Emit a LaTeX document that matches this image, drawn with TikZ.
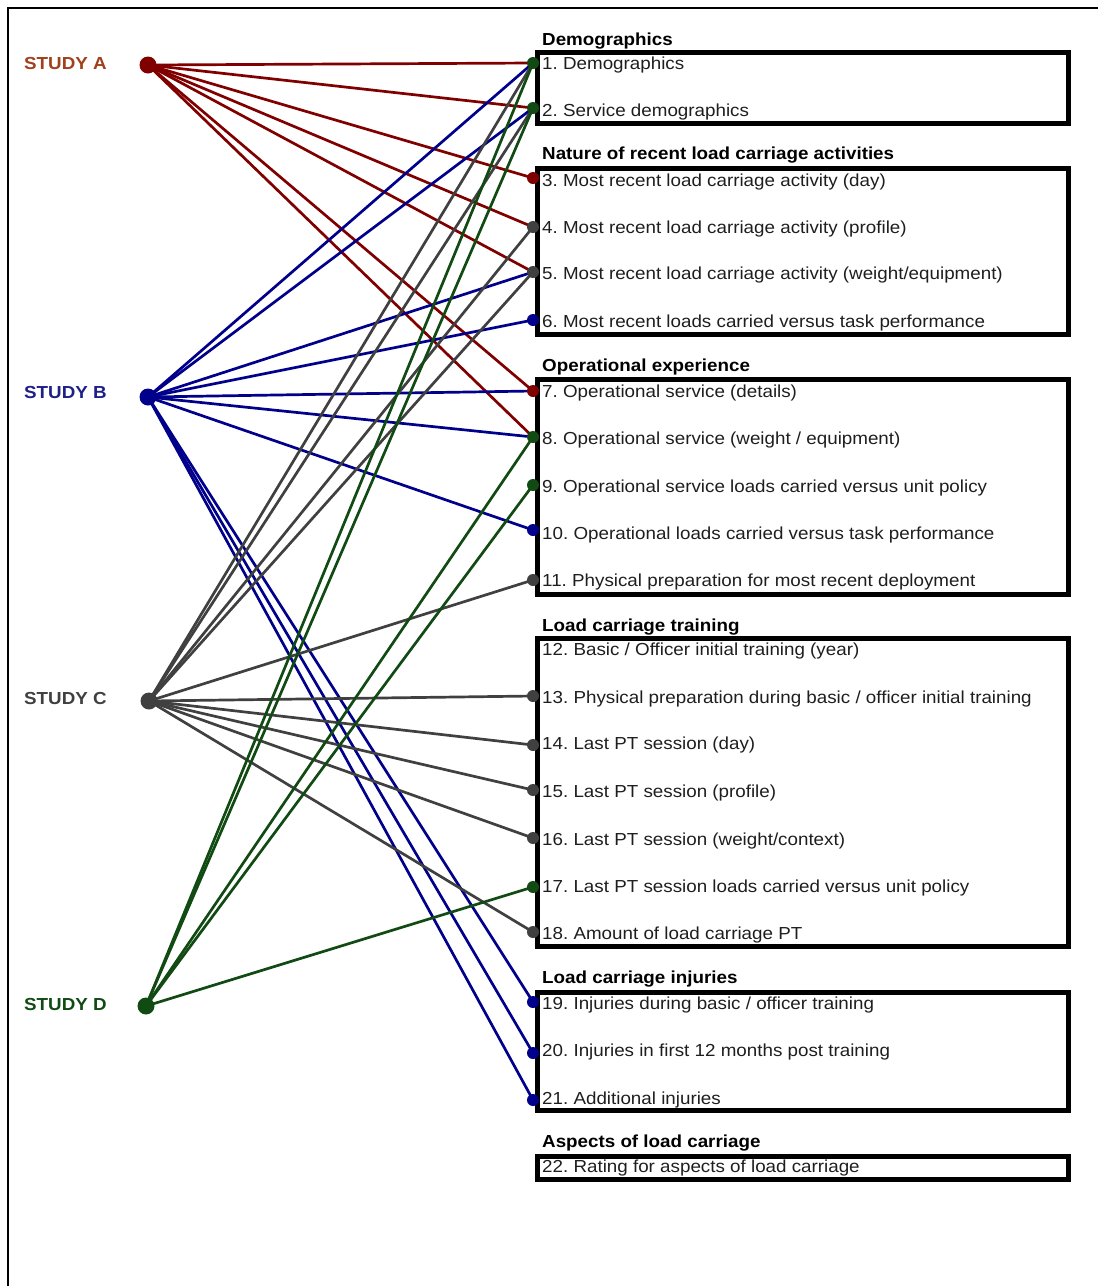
\documentclass[tikz,border=0pt]{standalone}
\usepackage{fontspec}
\setmainfont[FakeStretch=1.08]{Liberation Sans}
\usetikzlibrary{backgrounds}
\definecolor{ared}{HTML}{800000}
\definecolor{alabel}{HTML}{A0401C}
\definecolor{bblue}{HTML}{00008B}
\definecolor{blabel}{HTML}{1F1F8A}
\definecolor{cgray}{HTML}{404040}
\definecolor{dgreen}{HTML}{124A14}
\definecolor{txt}{HTML}{1E1E1E}
\begin{document}
\frenchspacing
\begin{tikzpicture}[x=1pt,y=-1pt,
  font=\fontsize{17.4}{20}\selectfont,
  studydot/.style={circle,inner sep=0pt,minimum size=17pt},
  itemdot/.style={circle,inner sep=0pt,minimum size=12pt},
  link/.style={line width=2.7pt},
  studylabel/.style={anchor=base west,inner sep=0pt,font=\fontsize{17.4}{20}\selectfont\bfseries},
  itemtext/.style={anchor=base west,inner sep=0pt,text=txt},
  heading/.style={anchor=base west,inner sep=0pt,font=\fontsize{17.4}{20}\selectfont\bfseries},
  groupbox/.style={draw=black,line width=5pt}
]
\useasboundingbox (0,0) rectangle (1098,1286);

% page frame (top and left edges)
\draw[line width=2pt] (1098,8) -- (8,8) -- (8,1286);

% group boxes
\draw[groupbox] (537,52) rectangle (1068,123);
\draw[groupbox] (537,168) rectangle (1068,334);
\draw[groupbox] (537,379) rectangle (1068,594);
\draw[groupbox] (537,638) rectangle (1068,946);
\draw[groupbox] (537,992) rectangle (1068,1110);
\draw[groupbox] (537,1156) rectangle (1068,1179);

% group headings
\node[heading] (h1) at (542,45) {Demographics};
\node[heading] (h2) at (542,159) {Nature of recent load carriage activities};
\node[heading] (h3) at (542,371) {Operational experience};
\node[heading] (h4) at (542,631) {Load carriage training};
\node[heading] (h5) at (542,983) {Load carriage injuries};
\node[heading] (h6) at (542,1147) {Aspects of load carriage};

% items
\node[itemtext] (t1) at (542,69) {1. Demographics};
\node[itemtext] (t2) at (542,116) {2. Service demographics};
\node[itemtext] (t3) at (542,186) {3. Most recent load carriage activity (day)};
\node[itemtext] (t4) at (542,233) {4. Most recent load carriage activity (profile)};
\node[itemtext] (t5) at (542,279) {5. Most recent load carriage activity (weight/equipment)};
\node[itemtext] (t6) at (542,327) {6. Most recent loads carried versus task performance};
\node[itemtext] (t7) at (542,397) {7. Operational service (details)};
\node[itemtext] (t8) at (542,444) {8. Operational service (weight / equipment)};
\node[itemtext] (t9) at (542,492) {9. Operational service loads carried versus unit policy};
\node[itemtext] (t10) at (542,539) {10. Operational loads carried versus task performance};
\node[itemtext] (t11) at (542,586) {11. Physical preparation for most recent deployment};
\node[itemtext] (t12) at (542,655) {12. Basic / Officer initial training (year)};
\node[itemtext] (t13) at (542,703) {13. Physical preparation during basic / officer initial training};
\node[itemtext] (t14) at (542,749) {14. Last PT session (day)};
\node[itemtext] (t15) at (542,797) {15. Last PT session (profile)};
\node[itemtext] (t16) at (542,845) {16. Last PT session (weight/context)};
\node[itemtext] (t17) at (542,892) {17. Last PT session loads carried versus unit policy};
\node[itemtext] (t18) at (542,939) {18. Amount of load carriage PT};
\node[itemtext] (t19) at (542,1009) {19. Injuries during basic / officer training};
\node[itemtext] (t20) at (542,1056) {20. Injuries in first 12 months post training};
\node[itemtext] (t21) at (542,1104) {21. Additional injuries};
\node[itemtext] (t22) at (542,1172) {22. Rating for aspects of load carriage};

% study labels
\node[studylabel,text=alabel] (la) at (24,69) {STUDY A};
\node[studylabel,text=blabel] (lb) at (24,398) {STUDY B};
\node[studylabel,text=cgray] (lc) at (24,704) {STUDY C};
\node[studylabel,text=dgreen] (ld) at (24,1010) {STUDY D};

% study points
\node[studydot,fill=ared] (A) at (148,65) {};
\node[studydot,fill=bblue] (B) at (148,397) {};
\node[studydot,fill=cgray] (C) at (149,701) {};
\node[studydot,fill=dgreen] (D) at (146,1006) {};

% item points
\node[itemdot,fill=dgreen] (i1) at (533,63) {};
\node[itemdot,fill=dgreen] (i2) at (533,108) {};
\node[itemdot,fill=ared] (i3) at (533,178) {};
\node[itemdot,fill=cgray] (i4) at (533,227) {};
\node[itemdot,fill=cgray] (i5) at (533,272) {};
\node[itemdot,fill=bblue] (i6) at (533,320) {};
\node[itemdot,fill=ared] (i7) at (533,391) {};
\node[itemdot,fill=dgreen] (i8) at (533,437) {};
\node[itemdot,fill=dgreen] (i9) at (533,485) {};
\node[itemdot,fill=bblue] (i10) at (533,530) {};
\node[itemdot,fill=cgray] (i11) at (533,580) {};
\node[itemdot,fill=cgray] (i13) at (533,696) {};
\node[itemdot,fill=cgray] (i14) at (533,745) {};
\node[itemdot,fill=cgray] (i15) at (533,790) {};
\node[itemdot,fill=cgray] (i16) at (533,838) {};
\node[itemdot,fill=dgreen] (i17) at (533,887) {};
\node[itemdot,fill=cgray] (i18) at (533,932) {};
\node[itemdot,fill=bblue] (i19) at (533,1002) {};
\node[itemdot,fill=bblue] (i20) at (533,1053) {};
\node[itemdot,fill=bblue] (i21) at (533,1100) {};

% links from each study to the items it covers
\begin{scope}[on background layer]
  \foreach \i in {1,2,3,4,5,7,8}
    \draw[link,ared] (A.center) -- (i\i.center);
  \foreach \i in {1,2,5,6,7,8,10,19,20,21}
    \draw[link,bblue] (B.center) -- (i\i.center);
  \foreach \i in {1,2,4,5,11,13,14,15,16,18}
    \draw[link,cgray] (C.center) -- (i\i.center);
  \foreach \i in {1,2,8,9,17}
    \draw[link,dgreen] (D.center) -- (i\i.center);
\end{scope}
\end{tikzpicture}
\end{document}
